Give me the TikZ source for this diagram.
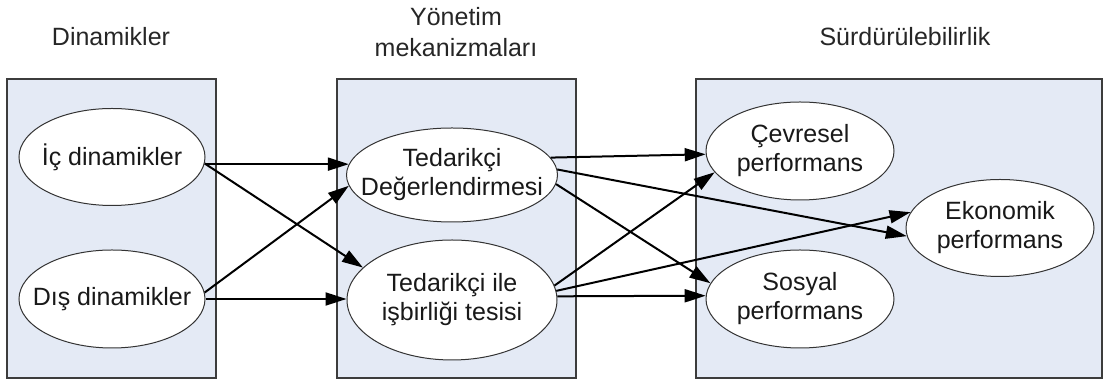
\documentclass[tikz,border=0pt]{standalone}
\usepackage{fontspec}
\setmainfont{Liberation Sans}
\usetikzlibrary{shapes.geometric,arrows.meta}
\definecolor{panelfill}{RGB}{228,234,245}
\definecolor{panelline}{RGB}{60,60,60}
\tikzset{
  panel/.style={draw=panelline, line width=1pt, fill=panelfill, rectangle, inner sep=0pt},
  ovaltext/.style={align=center, inner sep=0pt, font=\fontsize{12.5}{14.5}\selectfont, text=black!90},
  oval/.style={draw=black!80, line width=0.5pt, fill=white, ellipse, inner sep=0pt},
  title/.style={align=center, font=\fontsize{12.5}{15.5}\selectfont, text=black!85},
  link/.style={-{Triangle[length=10.5pt,width=6.5pt]}, line width=1pt, black}
}
\begin{document}
\begin{tikzpicture}[x=0.5pt,y=-0.5pt]
\useasboundingbox (0,0) rectangle (1103,383);
% panels
\node[panel, minimum width=104.5pt, minimum height=149.5pt] (p1) at (111.5,228.5) {};
\node[panel, minimum width=119.5pt, minimum height=149.5pt] (p2) at (456.5,228.5) {};
\node[panel, minimum width=203pt, minimum height=149.5pt] (p3) at (898.5,228.5) {};
% titles
\node[title] (t1) at (111,37) {Dinamikler};
\node[title] (t2) at (456,32) {Yönetim\\mekanizmaları};
\node[title] (t3) at (905,37) {Sürdürülebilirlik};
% ellipses
\node[oval, minimum width=93pt, minimum height=48.5pt, label={[ovaltext]center:İç dinamikler}] (ic) at (112,157) {};
\node[oval, minimum width=93pt, minimum height=49pt, label={[ovaltext]center:Dış dinamikler}] (dis) at (112,299) {};
\node[oval, minimum width=105.5pt, minimum height=47pt, label={[ovaltext]center:Tedarikçi\\Değerlendirmesi}] (td) at (452,175) {};
\node[oval, minimum width=105pt, minimum height=60pt, label={[ovaltext]center:Tedarikçi ile\\işbirliği tesisi}] (ti) at (452,300) {};
\node[oval, minimum width=94pt, minimum height=49pt, label={[ovaltext]center:Çevresel\\performans}] (cp) at (800,151) {};
\node[oval, minimum width=94pt, minimum height=49pt, label={[ovaltext]center:Sosyal\\performans}] (sp) at (800,299) {};
\node[oval, minimum width=94pt, minimum height=48.5pt, label={[ovaltext]center:Ekonomik\\performans}] (ep) at (1000,228) {};
% arrows
\draw[link] (ic.east |- td.174) -- (td.174);
\draw[link] (ic.-4) -- (ti.160);
\draw[link] (dis.4) -- (td.186);
\draw[link] (dis.east) -- (dis.east -| ti.west);
\draw[link] (td.10) -- (cp.182);
\draw[link] (td.3) -- (ep.185);
\draw[link] (td.-5) -- (sp.170);
\draw[link] (ti.8) -- (cp.194);
\draw[link] (ti.5) -- (ep.170);
\draw[link] (ti.2) -- (sp.178);
\end{tikzpicture}
\end{document}
